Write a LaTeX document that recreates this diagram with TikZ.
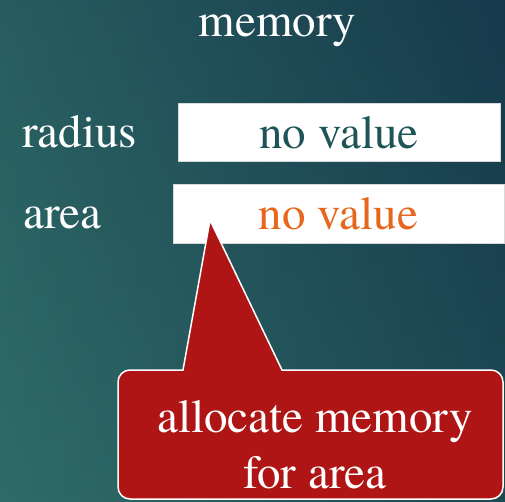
\documentclass[tikz,border=0pt]{standalone}
\usepackage{fontspec}
\newfontfamily\timesx{texgyretermes-regular.otf}
\definecolor{bgleft}{HTML}{2F6C68}
\definecolor{bgright}{HTML}{163A4C}
\definecolor{tealtxt}{HTML}{1E5457}
\definecolor{orangetxt}{HTML}{E8661C}
\definecolor{calloutred}{HTML}{B01515}
\begin{document}
\begin{tikzpicture}[x=1pt,y=-1pt,
  txt/.style={font=\timesx\fontsize{47}{54}\selectfont, inner sep=0pt, text=white},
  valbox/.style={fill=white, draw=white!85!black, line width=0.6pt, inner sep=0pt, font=\timesx\fontsize{47}{54}\selectfont},
  callout/.style={fill=calloutred, draw=white, line width=1.5pt}]
\shade[left color=bgleft, right color=bgright] (0,0) rectangle (505,501);
\shade[top color=bgright, bottom color=bgleft, opacity=0.3] (0,0) rectangle (505,501);
\useasboundingbox (0,0) rectangle (505,501);
\node[txt, anchor=base] (mem) at (277.5,36) {memory};
\node[txt, anchor=base west] (rad) at (22,147) {radius};
\node[txt, anchor=base west] (area) at (23,228) {area};
\node[valbox, minimum width=322pt, minimum height=58pt, text=tealtxt] (v1) at (339,132.5) {no value};
\node[valbox, minimum width=331pt, minimum height=59pt, text=orangetxt] (v2) at (338.5,213.5) {no value};
\coordinate (tip) at (210,220);
\coordinate (bl) at (183,370);
\coordinate (br) at (282,370);
\path[callout] (tip) -- (br) [rounded corners=12pt] -- (503,370) -- (503,499) -- (118,499) -- (118,370) [sharp corners] -- (bl) -- cycle;
\node[txt, anchor=base] (c1) at (315,432) {allocate memory};
\node[txt, anchor=base] (c2) at (315,488) {for area};
\end{tikzpicture}
\end{document}
